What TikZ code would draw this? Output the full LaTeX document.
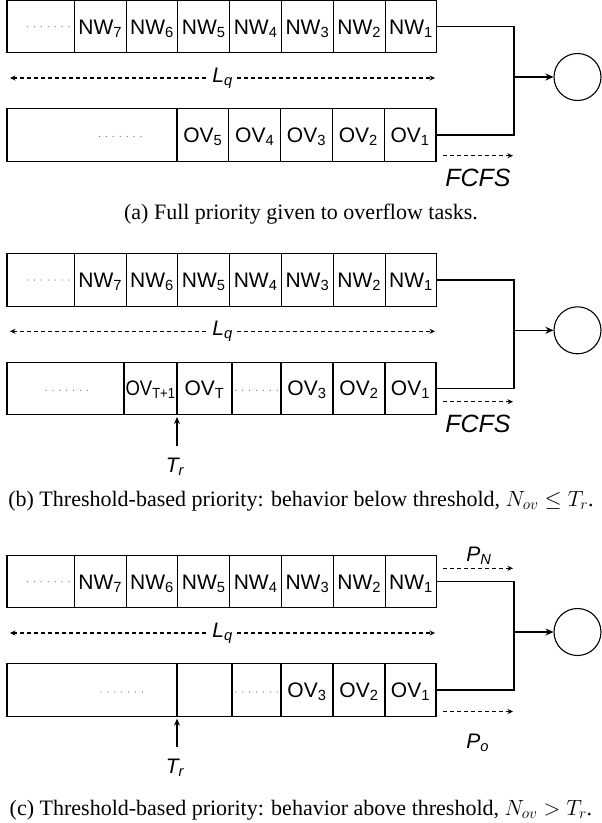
\documentclass[tikz,border=0pt]{standalone}
\usepackage{fix-cm}
\usepackage{graphicx}
\usepackage{fontspec}
\setmainfont{Liberation Serif}
\newfontfamily\cellfamily{Liberation Sans}
\usetikzlibrary{arrows.meta}

\tikzset{
  cell/.style={draw, line width=1.1pt, minimum width=51.8pt, minimum height=52.3pt,
    inner sep=0pt, outer sep=0pt, anchor=west, text height=15pt, text depth=0pt,
    font=\cellfamily\fontsize{21}{21}\selectfont},
  lbl/.style={inner sep=1pt, font=\cellfamily\itshape\fontsize{21}{21}\selectfont},
  dashline/.style={line width=1.1pt, dash pattern=on 4pt off 3pt},
  dotrow/.style={line width=1.3pt, black!55, dash pattern=on 0pt off 6.9pt, line cap=round},
  link/.style={line width=1.1pt},
  server/.style={draw, circle, line width=1.1pt, minimum size=47pt, inner sep=0pt},
  capt/.style={anchor=base, inner sep=0pt, font=\fontsize{22}{22}\selectfont},
}

\begin{document}
\begin{tikzpicture}[x=1pt, y=-1pt, >={Stealth[length=5.5pt,width=5pt]}]
\useasboundingbox[fill=white] (0,0) rectangle (602,823);

% new-task queue, Lq and server: the same in all three panels
\foreach \p/\dy in {a/0,b/253.3,c/555}{
  \begin{scope}[shift={(0,\dy)}]
    \node[cell, minimum width=67.3pt] (\p-nw8) at (7,26.7) {};
    \foreach \i [remember=\i as \j (initially 8)] in {7,...,1}
      \node[cell] (\p-nw\i) at (\p-nw\j.east) {NW\textsubscript{\i}};
    \draw[dotrow] (27.5,26.7) -- (69,26.7);
    \coordinate (\p-lq0) at (10,78);
    \coordinate (\p-lq1) at (435,78);
    \draw[dashline,<->] (\p-lq0) -- node[lbl, fill=white, inner sep=4pt] (\p-lq) {L\textsubscript{q}} (\p-lq1);
    \coordinate (\p-j) at (514,77);
    \node[server] (\p-srv) at (577.5,77) {};
    \draw[link,-{Stealth[length=8pt,width=7pt]}] (\p-j) -- (\p-srv);
  \end{scope}
}

% (a) full priority
\begin{scope}
  \node[cell, minimum width=170pt] (a-ov6) at (7,135) {};
  \foreach \i [remember=\i as \j (initially 6)] in {5,...,1}
    \node[cell] (a-ov\i) at (a-ov\j.east) {OV\textsubscript{\i}};
  \draw[dotrow] (99.5,136.5) -- (141,136.5);
  \draw[link] (a-nw1.east) -| (a-j) |- (a-ov1.east);
  \coordinate (a-q0) at (443,155.7);
  \coordinate (a-q1) at (513,155.7);
  \draw[dashline,->] (a-q0) -- (a-q1);
  \node[lbl, anchor=base, font=\cellfamily\itshape\fontsize{25}{25}\selectfont] (a-fcfs) at (478,186.7) {FCFS};
  \node[capt] (a-cap) at (301,219.3) {(a) Full priority given to overflow tasks.};
\end{scope}

% (b) below threshold
\begin{scope}[shift={(0,253.3)}]
  \node[cell, minimum width=117pt] (b-ovd) at (7,135) {};
  \node[cell, minimum width=53pt] (b-ovt1) at (b-ovd.east) {\scalebox{0.88}[1]{OV\textsubscript{T+1}}};
  \node[cell, minimum width=55pt] (b-ovt) at (b-ovt1.east) {OV\textsubscript{T}};
  \node[cell, minimum width=49pt] (b-ovd2) at (b-ovt.east) {};
  \node[cell, minimum width=52pt] (b-ov3) at (b-ovd2.east) {OV\textsubscript{3}};
  \node[cell, minimum width=52pt] (b-ov2) at (b-ov3.east) {OV\textsubscript{2}};
  \node[cell, minimum width=51pt] (b-ov1) at (b-ov2.east) {OV\textsubscript{1}};
  \draw[dotrow] (46,137) -- (87.5,137);
  \draw[dotrow] (235.8,137) -- (277.3,137);
  \draw[link] (b-nw1.east) -| (b-j) |- (b-ov1.east);
  \coordinate (b-q0) at (443,148.4);
  \coordinate (b-q1) at (513,148.4);
  \draw[dashline,->] (b-q0) -- (b-q1);
  \node[lbl, anchor=base, font=\cellfamily\itshape\fontsize{25}{25}\selectfont] (b-fcfs) at (478,178.7) {FCFS};
  \coordinate (b-tr0) at (177,192.4);
  \draw[link,-{Stealth[length=7pt,width=6pt]}, shorten >=2.5pt] (b-tr0) -- (b-ovt.south west);
  \node[lbl, anchor=base] (b-tr) at (175,219.4) {T\textsubscript{r}};
  \node[capt] (b-cap) at (301,252.7) {(b) Threshold-based priority: behavior below threshold, $N_{ov} \le T_r$.};
\end{scope}

% (c) above threshold
\begin{scope}[shift={(0,555)}]
  \node[cell, minimum width=170pt] (c-ovd) at (7,135) {};
  \node[cell, minimum width=55pt] (c-ove) at (c-ovd.east) {};
  \node[cell, minimum width=49pt] (c-ovd2) at (c-ove.east) {};
  \node[cell, minimum width=52pt] (c-ov3) at (c-ovd2.east) {OV\textsubscript{3}};
  \node[cell, minimum width=52pt] (c-ov2) at (c-ov3.east) {OV\textsubscript{2}};
  \node[cell, minimum width=51pt] (c-ov1) at (c-ov2.east) {OV\textsubscript{1}};
  \draw[dotrow] (101,137) -- (142.5,137);
  \draw[dotrow] (235.8,137) -- (277.3,137);
  \draw[link] (c-nw1.east) -| (c-j) |- (c-ov1.east);
  \coordinate (c-pn0) at (443,13.3);
  \coordinate (c-pn1) at (513,13.3);
  \draw[dashline,->] (c-pn0) -- (c-pn1);
  \node[lbl, anchor=base] (c-pn) at (479,6) {P\textsubscript{N}};
  \coordinate (c-po0) at (443,156.5);
  \coordinate (c-po1) at (513,156.5);
  \draw[dashline,->] (c-po0) -- (c-po1);
  \node[lbl, anchor=base] (c-po) at (477.7,193) {P\textsubscript{o}};
  \coordinate (c-tr0) at (177,191.7);
  \draw[link,-{Stealth[length=7pt,width=6pt]}, shorten >=2.5pt] (c-tr0) -- (c-ove.south west);
  \node[lbl, anchor=base] (c-tr) at (175,218.3) {T\textsubscript{r}};
  \node[capt] (c-cap) at (301,260.4) {(c) Threshold-based priority: behavior above threshold, $N_{ov} > T_r$.};
\end{scope}
\end{tikzpicture}
\end{document}
